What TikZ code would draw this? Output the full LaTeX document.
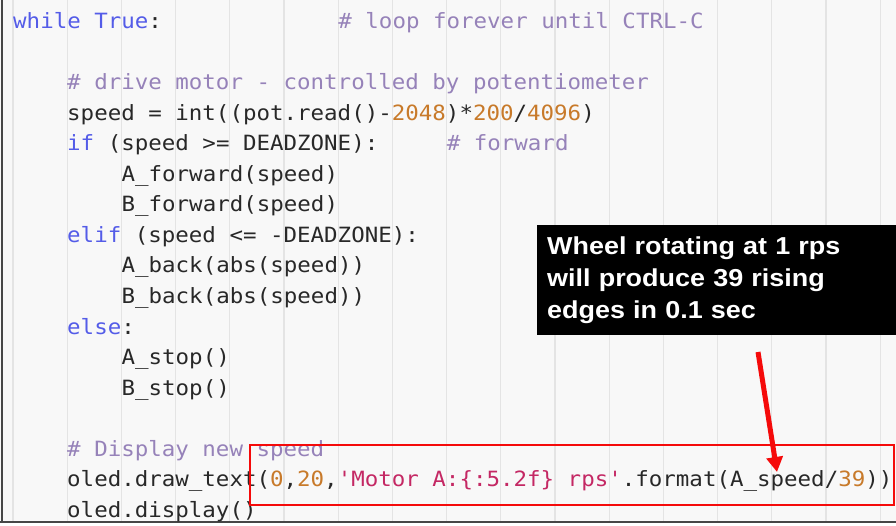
\documentclass[tikz,border=0pt]{standalone}
\usepackage{fontspec}
\usepackage{xcolor}
\usetikzlibrary{arrows.meta}

\newfontfamily\codefont[FakeStretch=1.07]{DejaVu Sans Mono}
\newfontfamily\notefont[FakeStretch=1.1]{Liberation Sans Bold}

\definecolor{panel}{RGB}{248,248,248}
\definecolor{guidegray}{RGB}{228,228,228}
\definecolor{bordergray}{RGB}{70,70,70}
\definecolor{codeink}{RGB}{40,40,40}
\definecolor{kwblue}{RGB}{84,92,232}
\definecolor{cmtpurple}{RGB}{150,130,185}
\definecolor{nmbora}{RGB}{200,122,42}
\definecolor{strred}{RGB}{196,40,100}
\definecolor{hired}{RGB}{245,10,10}

\newcommand{\kwd}[1]{\textcolor{kwblue}{#1}}
\newcommand{\nmb}[1]{\textcolor{nmbora}{#1}}
\newcommand{\strg}[1]{\textcolor{strred}{#1}}

\begin{document}
\begin{tikzpicture}[x=1pt,y=-1pt,
  code/.style={anchor=base west,inner sep=0pt,text=codeink,font=\codefont\fontsize{21pt}{30pt}\selectfont},
  comment/.style={code,text=cmtpurple},
  guideline/.style={draw=guidegray,line width=1.2pt},
  callout/.style={fill=black,text=white,anchor=north west,align=left,text width=345pt,
    inner xsep=10pt,inner ysep=11.5pt,minimum height=110pt,
    font=\notefont\fontsize{24.5pt}{32pt}\selectfont},
  hilite/.style={draw=hired,line width=2.5pt}]
\useasboundingbox (0,0) rectangle (896,525);

%panel
\fill[panel] (0,0) rectangle (896,522);
\foreach \k in {0,...,16}
  \draw[guideline] ({13+54.2*\k},0) -- ({13+54.2*\k},522);
\draw[bordergray,line width=2pt] (2,0) -- (2,522);
\draw[bordergray,line width=1.5pt] (0,522) -- (896,522);

%code
\node[code] (l0) at (13,28.5) {\kwd{while} \kwd{True}:};
\node[comment] (l0c) at (338.2,28.5) {\# loop forever until CTRL-C};
\node[comment] (l2) at (67,89.6) {\# drive motor - controlled by potentiometer};
\node[code] (l3) at (67,120.15) {speed = int((pot.read()-\nmb{2048})*\nmb{200}/\nmb{4096})};
\node[code] (l4) at (67,150.7) {\kwd{if} (speed >= DEADZONE):};
\node[comment] (l4c) at (446.6,150.7) {\# forward};
\node[code] (l5) at (121.4,181.25) {A\_forward(speed)};
\node[code] (l6) at (121.4,211.8) {B\_forward(speed)};
\node[code] (l7) at (67,242.35) {\kwd{elif} (speed <= -DEADZONE):};
\node[code] (l8) at (121.4,272.9) {A\_back(abs(speed))};
\node[code] (l9) at (121.4,303.45) {B\_back(abs(speed))};
\node[code] (l10) at (67,334) {\kwd{else}:};
\node[code] (l11) at (121.4,364.55) {A\_stop()};
\node[code] (l12) at (121.4,395.1) {B\_stop()};
\node[comment] (l14) at (67,456.2) {\# Display new speed};
\node[code] (l15) at (67,486.75) {oled.draw\_text(\nmb{0},\nmb{20},\strg{'Motor A:\{:5.2f\} rps'}.format(A\_speed/\nmb{39}))};
\node[code] (l16) at (67,517.3) {oled.display()};

%highlight
\draw[hilite] (250,445) rectangle (894,505);

%callout
\node[callout] (note) at (537,225) {Wheel rotating at 1 rps\\will produce 39 rising\\edges in 0.1 sec};
\coordinate (tail) at (758,352);
\coordinate (tip) at (777,472);
\draw[hired,line width=5pt,-{Triangle[length=15pt,width=16pt]}] (tail) -- (tip);
\end{tikzpicture}
\end{document}
